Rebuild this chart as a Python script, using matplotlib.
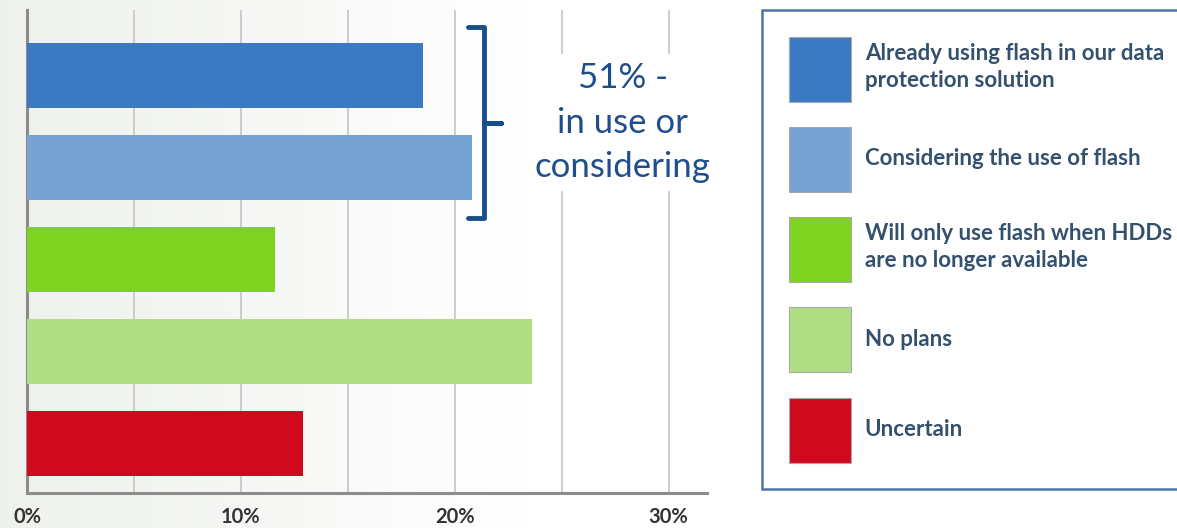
"""
Flash adoption in data protection - horizontal bar chart with side legend
"""
import numpy as np
import matplotlib.pyplot as plt
from matplotlib.patches import Patch

plt.rcParams['font.family'] = ['Lato', 'DejaVu Sans']

# data
categories = ['Already using flash in our data\nprotection solution',
              'Considering the use of flash',
              'Will only use flash when HDDs\nare no longer available',
              'No plans',
              'Uncertain']
values = [18.5, 20.8, 11.6, 23.6, 12.9]  # percent
bar_colors = ['#3b79c3', '#77a3d4', '#7ed321', '#b0de84', '#cf0a1d']
grid_values = [0, 5, 10, 15, 20, 25, 30]
callout_text = '51% -\nin use or\nconsidering'

W, H = 1177, 528
fig = plt.figure(figsize=(W / 100, H / 100), dpi=100)

# soft grey-green to white background wash
bg = fig.add_axes([0, 0, 1, 1], zorder=-10)
t = np.clip(np.linspace(0, 1, 512) / 0.45, 0, 1)
left = np.array([0.933, 0.945, 0.925])
row = left[None, :] * (1 - t[:, None]) + t[:, None]
bg.imshow(np.repeat(row[None, :, :], 2, axis=0), aspect='auto', extent=[0, 1, 0, 1])
bg.axis('off')

ax = fig.add_axes([27 / W, 35 / H, 680 / W, 483 / H])
ax.patch.set_alpha(0)
y = np.arange(len(values))
ax.barh(y, values, height=0.71, color=bar_colors, zorder=3)
ax.set_xlim(0, 31.8)
ax.set_ylim(len(values) - 0.46, -0.71)

ax.set_xticks(grid_values)
ax.set_xticklabels([f'{v}%' if v % 10 == 0 else '' for v in grid_values])
ax.set_yticks([])
ax.xaxis.grid(True, color='#c9c9c9', linewidth=1.3)
ax.set_axisbelow(True)
ax.tick_params(axis='x', length=0, pad=10, labelsize=14.5, labelcolor='#333333')
for lbl in ax.get_xticklabels():
    lbl.set_fontweight('bold')
for side in ['top', 'right']:
    ax.spines[side].set_visible(False)
for side in ['left', 'bottom']:
    ax.spines[side].set_color('#8c8c8c')
    ax.spines[side].set_linewidth(2.2)

# bracket around the first two bars
bx = max(values[:2]) + 0.55
top, bottom = 0 - 0.52, 1 + 0.55
mid = (top + bottom) / 2
ax.plot([bx - 0.75, bx, bx, bx + 0.8, bx, bx, bx - 0.75],
        [top, top, mid, mid, mid, bottom, bottom],
        color='#174f8a', linewidth=3.5, solid_joinstyle='round',
        solid_capstyle='round', zorder=5, clip_on=False)
ax.text(bx + 6.5, mid, callout_text, ha='center', va='center', fontsize=25,
        color='#1f4e8c', linespacing=1.47, zorder=6,
        bbox=dict(facecolor='white', edgecolor='none', pad=6))

# legend panel on the right
handles = [Patch(facecolor=c, edgecolor='#a8a8a8', linewidth=0.8) for c in bar_colors]
leg = fig.legend(handles, categories, loc='upper left',
                 bbox_to_anchor=(762 / W, 1 - 10 / H), borderaxespad=0,
                 fontsize=16, handlelength=2.8, handleheight=4.13,
                 labelspacing=1.13, borderpad=1.2, handletextpad=0.62,
                 fancybox=False, framealpha=1, facecolor='white',
                 edgecolor='#4f74a8')
leg.get_frame().set_linewidth(1.8)
for txt in leg.get_texts():
    txt.set_color('#34506f')
    txt.set_fontweight('bold')
    txt.set_linespacing(1.35)

fig.savefig('out.png', dpi=100)
